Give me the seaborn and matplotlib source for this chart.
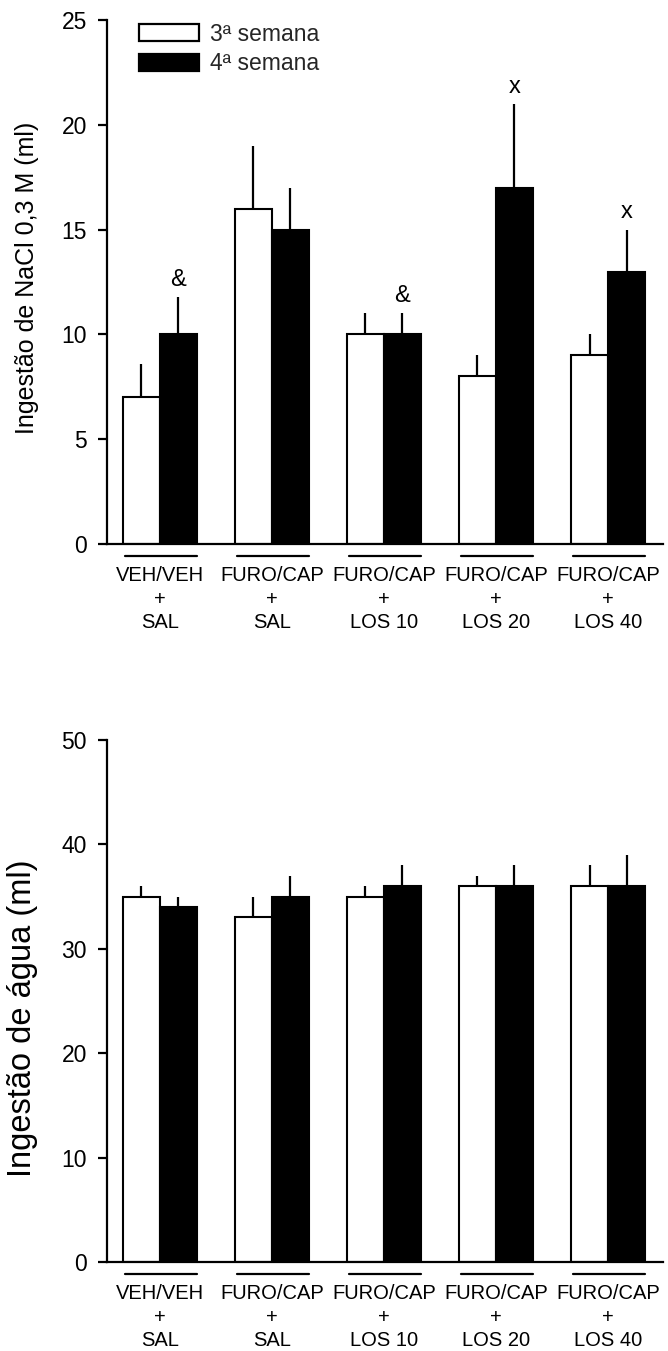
import numpy as np
import pandas as pd
import matplotlib
matplotlib.use("Agg")
import matplotlib.pyplot as plt
import matplotlib.patches as mpatches
import seaborn as sns

# Treatment groups (x tick labels) and weeks (hue levels)
groups = ["VEH/VEH\n+\nSAL", "FURO/CAP\n+\nSAL", "FURO/CAP\n+\nLOS 10",
          "FURO/CAP\n+\nLOS 20", "FURO/CAP\n+\nLOS 40"]
weeks = ["3ª semana", "4ª semana"]

# NaCl 0.3 M intake (ml): mean and SEM per week
nacl_w3 = [7, 16, 10, 8, 9]
nacl_w3_sem = [1.6, 3, 1, 1, 1]
nacl_w4 = [10, 15, 10, 17, 13]
nacl_w4_sem = [1.8, 2, 1, 4, 2]
nacl_w4_marks = ["&", "", "&", "x", "x"]

# Water intake (ml): mean and SEM per week
agua_w3 = [35, 33, 35, 36, 36]
agua_w3_sem = [1, 2, 1, 1, 2]
agua_w4 = [34, 35, 36, 36, 36]
agua_w4_sem = [1, 2, 2, 2, 3]

sns.set_theme(style="white")
plt.rcParams["font.family"] = ["Liberation Sans", "DejaVu Sans"]
plt.rcParams["axes.linewidth"] = 1.5

W, H = 668, 1351
fig = plt.figure(figsize=(W / 100, H / 100), dpi=100)

ax_left = 107 / W
ax_width = (663 - 107) / W
ax1 = fig.add_axes([ax_left, 1 - 544 / H, ax_width, (544 - 20) / H])
ax2 = fig.add_axes([ax_left, 1 - 1262 / H, ax_width, (1262 - 740) / H])

palette = {weeks[0]: "white", weeks[1]: "black"}


def long_frame(w3, w4):
    return pd.DataFrame({
        "grupo": groups * 2,
        "semana": [weeks[0]] * len(groups) + [weeks[1]] * len(groups),
        "valor": list(w3) + list(w4),
    })


def draw_panel(ax, w3, w3_sem, w4, w4_sem, ymax, ystep, ylabel, ylabel_size,
               label_x, label_y, marks=None):
    df = long_frame(w3, w4)
    sns.barplot(data=df, x="grupo", y="valor", hue="semana", order=groups,
                hue_order=weeks, palette=palette, edgecolor="black",
                linewidth=1.5, width=0.66, errorbar=None, legend=False,
                saturation=1, ax=ax, zorder=2)

    # Upper-only SEM bars, centred on each bar
    for cont, sem in zip(ax.containers, [w3_sem, w4_sem]):
        for bar, e in zip(cont.patches, sem):
            xc = bar.get_x() + bar.get_width() / 2
            top = bar.get_height()
            ax.plot([xc, xc], [top, top + e], color="black", lw=1.6,
                    solid_capstyle="butt", zorder=1)

    if marks is not None:
        cont = ax.containers[1]
        for bar, e, m in zip(cont.patches, w4_sem, marks):
            if not m:
                continue
            xc = bar.get_x() + bar.get_width() / 2
            ax.annotate(m, (xc, bar.get_height() + e), xytext=(0, 8),
                        textcoords="offset points", ha="center",
                        va="baseline", fontsize=17, color="black")

    ax.set_xlim(-0.47, 4.49)
    ax.set_ylim(0, ymax)
    ax.set_yticks(np.arange(0, ymax + 0.1, ystep))
    ax.set_yticklabels([f"{int(v)}" for v in np.arange(0, ymax + 0.1, ystep)])
    ax.set_xlabel("")
    ax.set_ylabel(ylabel, fontsize=ylabel_size, color="black")
    ax.yaxis.set_label_coords(label_x, label_y)

    for s in ["top", "right"]:
        ax.spines[s].set_visible(False)
    for s in ["left", "bottom"]:
        ax.spines[s].set_color("black")
        ax.spines[s].set_linewidth(1.6)

    ax.tick_params(axis="y", direction="out", length=6.5, width=1.6,
                   pad=8, labelsize=16.5, colors="black", left=True)
    ax.tick_params(axis="x", length=0, pad=16, labelsize=14.5,
                   colors="black", bottom=False)
    for t in ax.get_xticklabels():
        t.set_linespacing(1.3)

    # Short rules under each group, just below the x axis
    ax_h_px = ax.get_position().height * H
    yr = -12 / ax_h_px
    trans = ax.get_xaxis_transform()
    for i in range(len(groups)):
        ax.plot([i - 0.31, i + 0.33], [yr, yr], color="black", lw=1.6,
                transform=trans, clip_on=False)


draw_panel(ax1, nacl_w3, nacl_w3_sem, nacl_w4, nacl_w4_sem, 25, 5,
           "Ingestão de NaCl 0,3 M (ml)", 18, -0.122, 0.507,
           marks=nacl_w4_marks)
draw_panel(ax2, agua_w3, agua_w3_sem, agua_w4, agua_w4_sem, 50, 10,
           "Ingestão de água (ml)", 23.5, -0.125, 0.467)

handles = [mpatches.Patch(facecolor=palette[w], edgecolor="black", lw=1.6)
           for w in weeks]
ax1.legend(handles, weeks, loc="upper left", bbox_to_anchor=(0.0576, 0.995),
           frameon=False, fontsize=16.5, handlelength=2.6, handleheight=0.75,
           handletextpad=0.5, labelspacing=0.3, borderpad=0,
           borderaxespad=0)

fig.savefig("out.png", dpi=100, facecolor="white")
